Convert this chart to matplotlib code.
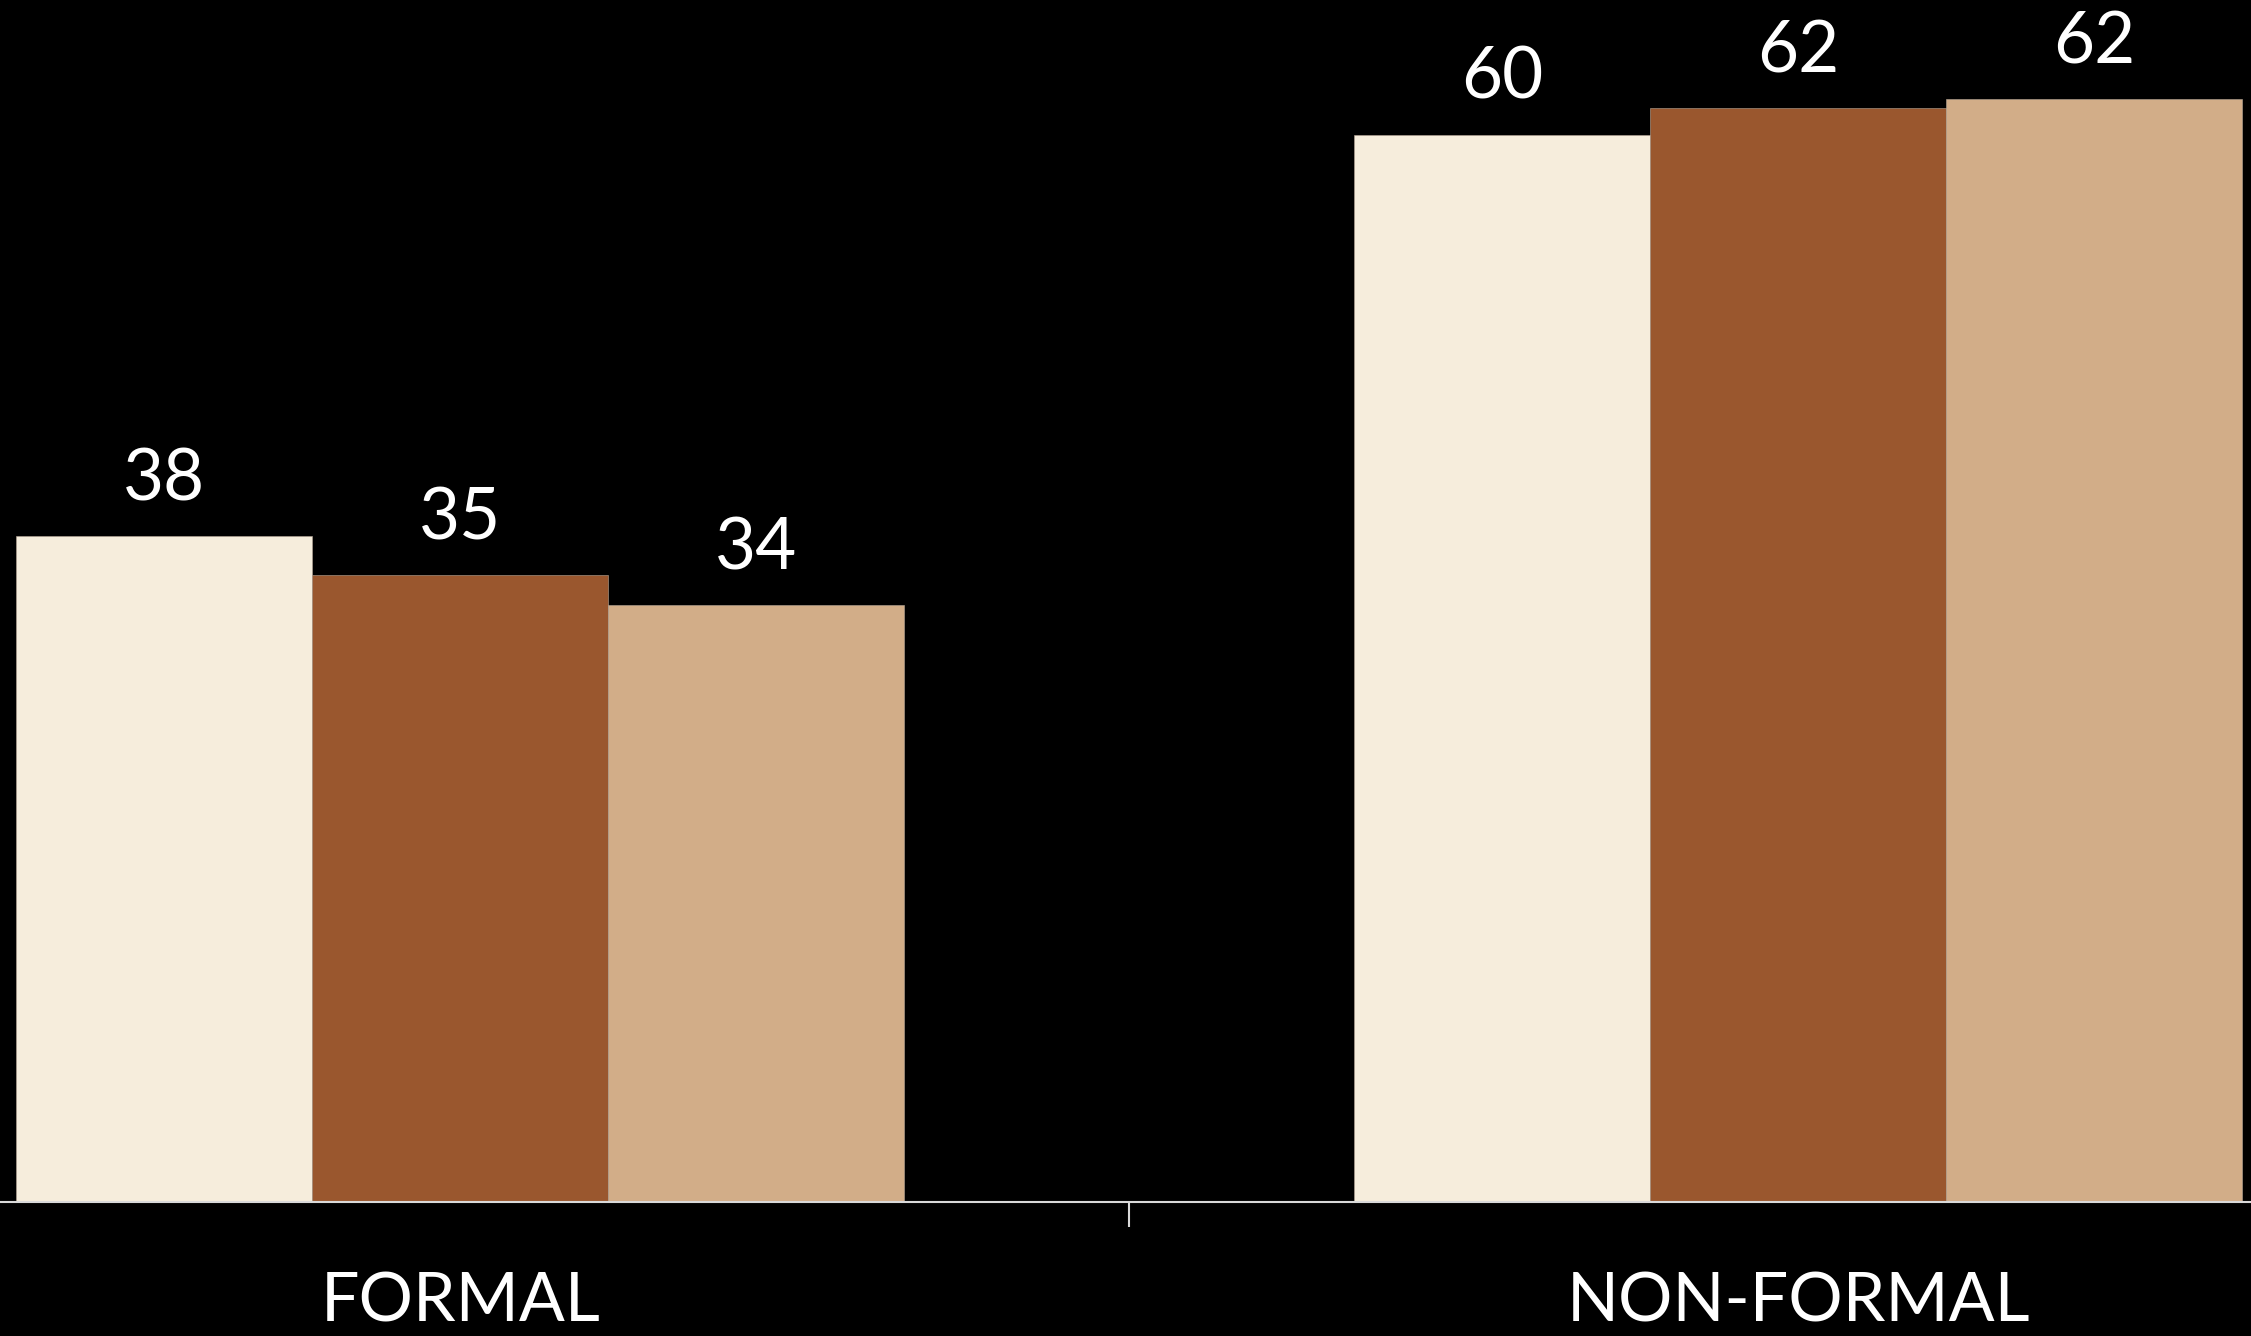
import matplotlib
matplotlib.use("Agg")
import matplotlib.pyplot as plt
import numpy as np

categories = ["FORMAL", "NON-FORMAL"]
series_a = [37.6, 60.3]
series_b = [35.4, 61.8]
series_c = [33.7, 62.3]
colors = ["#F6EDDC", "#9A572E", "#D2AD88"]

plt.rcParams['font.family'] = ['Lato', 'DejaVu Sans']

fig = plt.figure(figsize=(22.51, 13.36), dpi=100, facecolor="black")
ax = fig.add_axes([0, 0.1003, 1, 0.8997])
ax.set_facecolor("black")

x = np.arange(len(categories))
w = 0.2212
for i, (vals, c) in enumerate(zip([series_a, series_b, series_c], colors)):
    bars = ax.bar(x + (i - 1) * w, vals, width=w, color=c, edgecolor="#b8a898", linewidth=0.4)
    for b, v in zip(bars, vals):
        ax.annotate(f"{v:.0f}", (b.get_x() + b.get_width() / 2, v),
                    xytext=(0, 17), textcoords="offset points",
                    ha="center", va="bottom", color="white", fontsize=51)

ax.set_xlim(-0.344, 1.3386)
ax.set_ylim(0, 67.9)
ax.set_yticks([])
for s in ["top", "left", "right"]:
    ax.spines[s].set_visible(False)
ax.spines["bottom"].set_color("#d9d9d9")
ax.spines["bottom"].set_linewidth(1.5)

ax.set_xticks(x)
ax.set_xticklabels(categories, color="white", fontsize=49)
ax.tick_params(axis="x", which="major", length=0, pad=50)
ax.set_xticks([0.5], minor=True)
ax.tick_params(axis="x", which="minor", length=18, width=1.5, color="#d9d9d9", direction="out")

fig.savefig("out.png", dpi=100, facecolor="black")
